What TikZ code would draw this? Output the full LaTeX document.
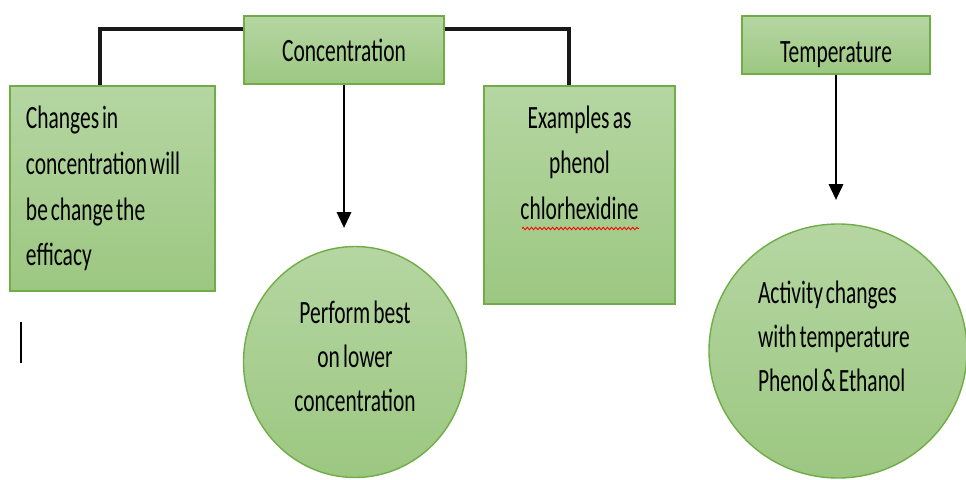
\documentclass[tikz,border=0pt]{standalone}
\usepackage{fontspec}
\usepackage{tikz}
\usetikzlibrary{positioning,arrows.meta,shapes.geometric,decorations.pathmorphing}
\newfontfamily\cardfont{Carlito}[FakeStretch=0.66]
\definecolor{cardtop}{RGB}{181,214,162}
\definecolor{cardbottom}{RGB}{156,199,129}
\definecolor{cardline}{RGB}{112,173,71}
\tikzset{
    every node/.style={
        font=\cardfont\fontsize{18.5}{26}\selectfont,
        execute at begin node={\spaceskip=1.6pt plus 0.5pt\xspaceskip=1.6pt plus 0.5pt\relax}
    },
    card/.style={
        shape=rectangle,
        draw=cardline,
        line width=0.8pt,
        top color=cardtop,
        bottom color=cardbottom,
        inner sep=0pt
    },
    bubble/.style={
        shape=ellipse,
        draw=cardline,
        line width=0.8pt,
        top color=cardtop,
        bottom color=cardbottom,
        inner sep=0pt,
        font=\cardfont\fontsize{18.5}{25}\selectfont
    }
}

\begin{document}
\begin{tikzpicture}[
		link/.style={line width=2.2pt, black!90},
		pointer/.style={line width=1.6pt, -{Triangle[width=8pt,length=9pt]}}
		]
		\useasboundingbox (0,0) rectangle (19.32,-9.58);
		\node (conc) at (6.88,-1.0) [card, minimum width=4cm, minimum height=1.36cm] {Concentration};
		\node (temp) at (16.72,-0.9) [card, minimum width=3.76cm, minimum height=1.16cm, text height=0.8cm] {Temperature};
		
		\node (chg) at (2.25,-3.77) [card, minimum width=4.1cm, minimum height=4.1cm, text width=3.46cm, align=left] {Changes in\\concentration will\\be change the\\efficacy};
		\node (ex) at (11.59,-3.9) [card, minimum width=3.82cm, minimum height=4.36cm, text width=3.2cm, align=center, text depth=3.12cm] {Examples as\\phenol\\chlorhexidine};
		
		\node (best) at (7.1,-7.24) [bubble, minimum width=4.46cm, minimum height=4.62cm, text width=2.8cm, align=center, text depth=2cm] {Perform best\\on lower\\concentration};
		\node (act) at (16.76,-7.02) [bubble, minimum width=5.16cm, minimum height=5.08cm, text width=3.2cm, align=left, text depth=2.36cm] {Activity changes\\with temperature\\Phenol \& Ethanol};
		
		\coordinate (bestin) at (6.88,-4.56);
		\coordinate (actin) at (16.72,-4.0);
		
		\draw [link] ([yshift=0.42cm]conc.west) -| ([xshift=-0.25cm]chg.north);
		\draw [link] ([yshift=0.42cm]conc.east) -| ([xshift=-0.21cm]ex.north);
		\draw [pointer] (conc) -- (bestin);
		\draw [pointer] (temp) -- (actin);
		
		\draw [line width=1.3pt] (0.42,-6.44) -- (0.42,-7.26);
		\draw [red, line width=0.5pt, decorate, decoration={zigzag, amplitude=0.7pt, segment length=2.4pt}] (10.44,-4.57) -- (12.78,-4.57);
	\end{tikzpicture}
\end{document}
